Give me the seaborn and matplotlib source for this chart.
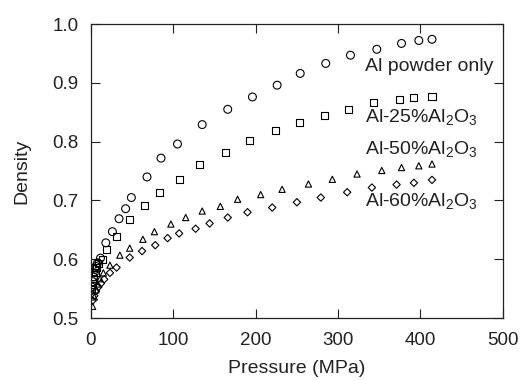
import matplotlib
matplotlib.use("Agg")
import matplotlib.pyplot as plt
import seaborn as sns
import pandas as pd

# Al powder only (circles)
p_al = [1, 2, 3, 4, 5, 6, 8, 11.5, 18, 26, 34, 42, 49, 68, 85, 105, 135, 166, 196, 226, 254, 285, 315, 347, 377, 398, 414]
d_al = [0.553, 0.562, 0.570, 0.577, 0.583, 0.588, 0.594, 0.602, 0.628, 0.647, 0.669, 0.686, 0.705, 0.740, 0.772, 0.796, 0.829, 0.855, 0.876, 0.896, 0.916, 0.933, 0.947, 0.957, 0.967, 0.972, 0.974]

# Al-25% Al2O3 (squares)
p_25 = [1, 2, 3, 5, 7, 9, 14, 19, 31, 47, 65, 83, 107, 132, 163, 192, 224, 253, 283, 313, 343, 374, 392, 414]
d_25 = [0.548, 0.558, 0.567, 0.577, 0.586, 0.593, 0.599, 0.617, 0.638, 0.667, 0.691, 0.713, 0.736, 0.761, 0.782, 0.802, 0.819, 0.832, 0.844, 0.855, 0.866, 0.872, 0.875, 0.877]

# Al-50% Al2O3 (triangles)
p_50 = [2, 4, 6, 8, 11, 15, 23, 35, 47, 63, 77, 97, 115, 135, 157, 178, 206, 232, 264, 293, 323, 353, 377, 398, 414]
d_50 = [0.520, 0.536, 0.548, 0.558, 0.567, 0.577, 0.590, 0.607, 0.619, 0.634, 0.647, 0.660, 0.671, 0.682, 0.690, 0.702, 0.710, 0.719, 0.728, 0.736, 0.745, 0.751, 0.756, 0.759, 0.762]

# Al-60% Al2O3 (diamonds)
p_60 = [2, 4, 6, 9, 12, 16, 23, 31, 47, 62, 78, 93, 107, 127, 144, 166, 190, 220, 250, 279, 311, 341, 371, 392, 414]
d_60 = [0.530, 0.538, 0.546, 0.553, 0.559, 0.566, 0.577, 0.586, 0.603, 0.614, 0.624, 0.636, 0.644, 0.652, 0.661, 0.671, 0.680, 0.688, 0.697, 0.705, 0.714, 0.722, 0.727, 0.730, 0.735]

label_text = ["Al powder only", "Al-25%Al$_2$O$_3$", "Al-50%Al$_2$O$_3$", "Al-60%Al$_2$O$_3$"]
label_y = [0.927, 0.840, 0.786, 0.698]

sns.set_theme(style="ticks")
plt.rcParams["font.family"] = ["Liberation Sans", "DejaVu Sans"]
plt.rcParams["mathtext.fontset"] = "custom"
plt.rcParams["mathtext.rm"] = "Liberation Sans"

fig = plt.figure(figsize=(5.2, 3.81), dpi=100)
ax = fig.add_axes([0.175, 0.165, 0.792, 0.772])

series = [(p_al, d_al, "o", 32), (p_25, d_25, "s", 26), (p_50, d_50, "^", 20), (p_60, d_60, "D", 14)]
for p, d, m, s in series:
    df = pd.DataFrame({"Pressure": p, "Density": d})
    sns.scatterplot(data=df, x="Pressure", y="Density", marker=m, s=s,
                    facecolors="none", edgecolor="black", linewidth=0.8, ax=ax)

for txt, y in zip(label_text, label_y):
    ax.text(333, y, txt, ha="left", va="center", fontsize=14, color="#222222")

ax.set_xlim(0, 500)
ax.set_ylim(0.5, 1.0)
ax.set_xticks([0, 100, 200, 300, 400, 500])
ax.set_yticks([0.5, 0.6, 0.7, 0.8, 0.9, 1.0])
ax.set_yticklabels(["0.5", "0.6", "0.7", "0.8", "0.9", "1.0"])
ax.tick_params(direction="in", length=6.5, width=0.8, top=True, right=True,
               labelsize=13.5, colors="#222222")
ax.tick_params(axis="x", pad=10)
ax.tick_params(axis="y", pad=9)
for sp in ax.spines.values():
    sp.set_visible(True)
    sp.set_linewidth(0.9)
    sp.set_color("#222222")
ax.set_xlabel("Pressure (MPa)", fontsize=14, color="#222222", labelpad=8)
ax.set_ylabel("Density", fontsize=14, color="#222222", labelpad=16)

fig.savefig("out.png", dpi=100)
